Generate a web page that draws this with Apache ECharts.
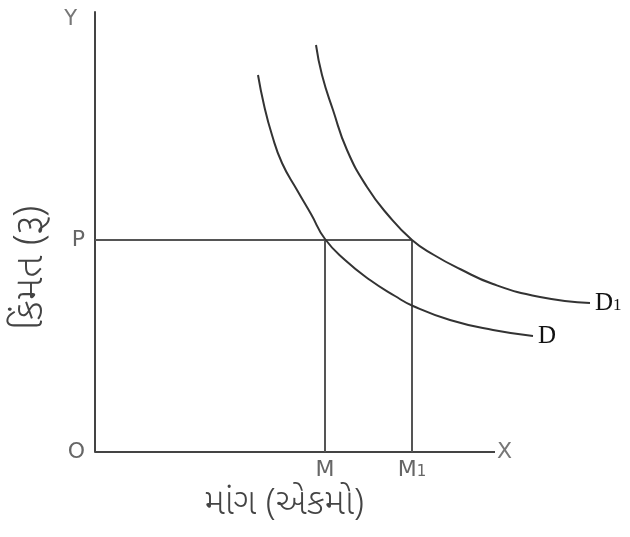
<!DOCTYPE html>
<html>
<head>
<meta charset="utf-8">
<script src="https://cdn.jsdelivr.net/npm/echarts@6/dist/echarts.min.js"></script>
<style>
  html, body { margin: 0; padding: 0; background: #fff; }
  #chart { width: 630px; height: 537px; }
</style>
</head>
<body>
<div id="chart"></div>
<script>
// curve D (quantity, price)
const dX = [163, 169, 177, 187, 202, 216, 230, 250, 275, 300, 318, 355, 398, 438];
const dY = [377, 347, 317, 289, 262, 238, 213, 192, 172, 156, 146, 132, 122, 116];
// curve D1
const d1X = [221, 227, 238, 252, 272, 293, 317, 339, 365, 398, 445, 495];
const d1Y = [407, 377, 342, 302, 265, 237, 212, 197, 183, 168, 155, 149];
// price P and quantities M, M1, end of the X axis
const priceP = 212;
const qtyM = 230;
const qtyM1 = 317;
const xAxisEnd = 400;

const serif = '"Liberation Serif", "DejaVu Serif", serif';
const sans = '"DejaVu Sans", "Liberation Sans", sans-serif';
const guj = '"Noto Sans Gujarati", "Noto Sans", sans-serif';

const curveRich = {
  n: { fontFamily: serif, fontSize: 25, color: '#111' },
  s: { fontFamily: serif, fontSize: 17, color: '#111', padding: [6, 0, 0, 0] }
};

function curveData(xs, ys, startText, off) {
  return xs.map((x, i) => {
    if (i === 0) {
      return {
        value: [x, ys[i]],
        label: { show: true, position: 'top', distance: 5, offset: off, formatter: startText, rich: curveRich }
      };
    }
    return [x, ys[i]];
  });
}

const chart = echarts.init(document.getElementById('chart'));

chart.setOption({
  animation: false,
  grid: { left: 95, top: 12, width: 495, height: 440 },
  xAxis: {
    type: 'value', min: 0, max: 495,
    axisLine: { show: false },
    axisTick: { show: false },
    splitLine: { show: false },
    axisLabel: {
      customValues: [qtyM, qtyM1], margin: 7,
      fontFamily: sans, fontSize: 22, color: '#666',
      formatter: v => v === qtyM ? 'M' : '{m|M}{s|1}',
      rich: {
        m: { fontFamily: sans, fontSize: 22, color: '#666' },
        s: { fontFamily: sans, fontSize: 15, color: '#666', padding: [4, 0, 0, 0] }
      }
    }
  },
  yAxis: {
    type: 'value', min: 0, max: 440,
    name: 'Y', nameLocation: 'end', nameGap: -18,
    nameTextStyle: { fontFamily: sans, fontSize: 21, color: '#777', align: 'right', padding: [0, 18, 0, 0] },
    axisLine: { show: true, lineStyle: { color: '#444', width: 2 } },
    axisTick: { show: false },
    splitLine: { show: false },
    axisLabel: {
      customValues: [0, priceP], margin: 10,
      fontFamily: sans, fontSize: 22, color: '#666',
      formatter: v => v === 0 ? 'O' : 'P'
    }
  },
  graphic: [
    {
      type: 'text', x: 35, y: 268, rotation: Math.PI / 2,
      style: { text: 'કિંમત (રૂ)', font: '300 40px ' + guj, fill: '#444', align: 'center', verticalAlign: 'middle' }
    },
    {
      type: 'text', x: 284, y: 507,
      style: { text: 'માંગ (એકમો)', font: '300 36px ' + guj, fill: '#444', align: 'center', verticalAlign: 'middle' }
    }
  ],
  series: [
    {
      // the X axis line
      type: 'line', data: [[0, 0], [xAxisEnd, 0]], symbol: 'none', silent: true,
      lineStyle: { color: '#444', width: 2 },
      endLabel: { show: true, distance: 2, formatter: 'X', fontFamily: sans, fontSize: 22, color: '#777' }
    },
    {
      type: 'line', data: [[0, priceP], [qtyM1, priceP]], symbol: 'none',
      lineStyle: { color: '#555', width: 2 }, silent: true
    },
    {
      type: 'line', data: [[qtyM, 0], [qtyM, priceP]], symbol: 'none',
      lineStyle: { color: '#555', width: 2 }, silent: true
    },
    {
      type: 'line', data: [[qtyM1, 0], [qtyM1, priceP]], symbol: 'none',
      lineStyle: { color: '#555', width: 2 }, silent: true
    },
    {
      name: 'D', type: 'line', smooth: true, symbol: 'none',
      data: curveData(dX, dY, '{n|D}', [-13, -4]),
      lineStyle: { color: '#333', width: 2 },
      endLabel: { show: true, distance: 5, formatter: '{n|D}', rich: curveRich }
    },
    {
      name: 'D1', type: 'line', smooth: true, symbol: 'none',
      data: curveData(d1X, d1Y, '{n|D}{s|1}', [-4, -8]),
      lineStyle: { color: '#333', width: 2 },
      endLabel: { show: true, distance: 5, formatter: '{n|D}{s|1}', rich: curveRich }
    }
  ]
});
</script>
</body>
</html>
